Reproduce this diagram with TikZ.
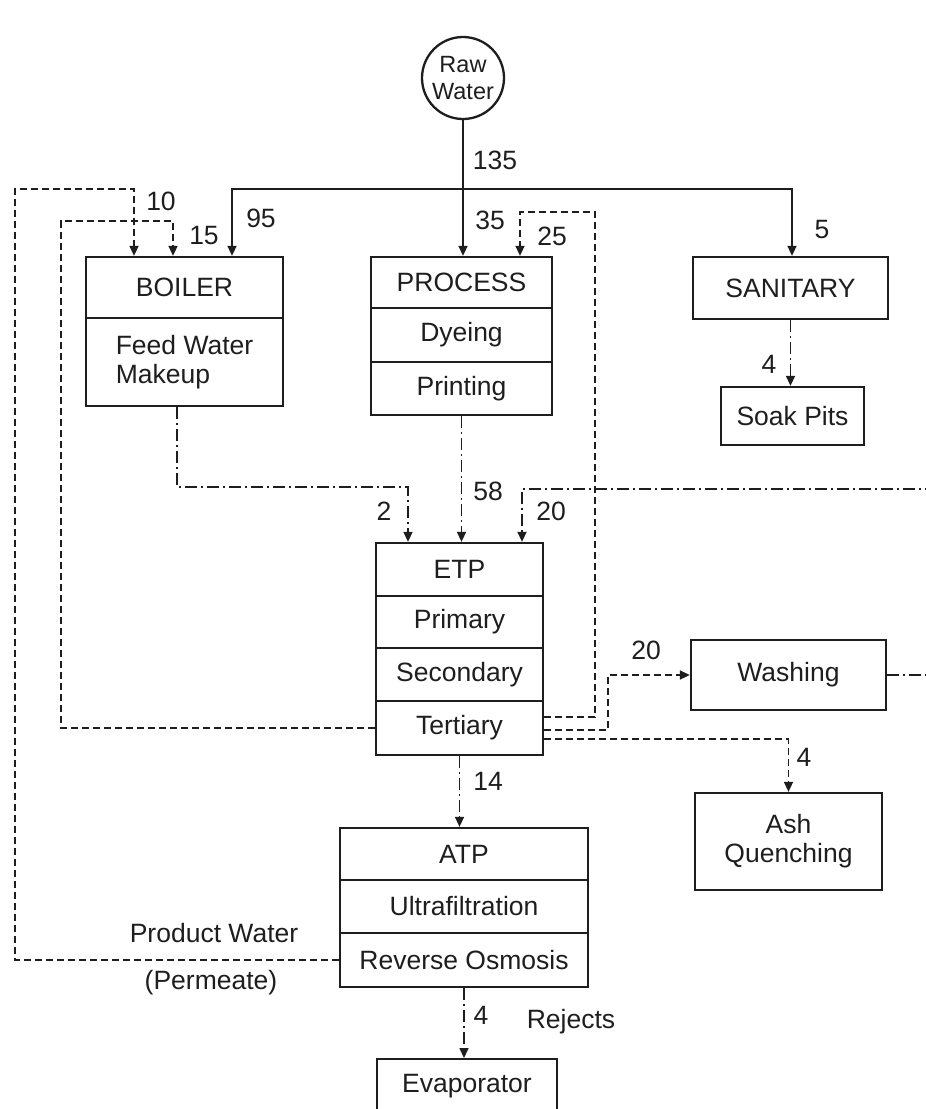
\documentclass[tikz,border=0pt]{standalone}
\usepackage{fontspec}
\setmainfont{Liberation Sans}
\usetikzlibrary{arrows.meta}
\definecolor{ink}{HTML}{1E1E1E}
\newcommand\myfs{\fontsize{26.5}{29}\selectfont}
\newcommand\mysfs{\fontsize{23.5}{27}\selectfont}
\begin{document}
\begin{tikzpicture}[x=1pt,y=-1pt]
\tikzset{
 box/.style={draw=ink, line width=2.3pt, inner sep=0pt, font=\myfs, text=ink},
 flow/.style={draw=ink, line width=1.6pt, -{Triangle[length=10pt,width=9pt]}},
 dsh/.style={dash pattern=on 7pt off 4pt},
 dd/.style={dash pattern=on 12pt off 4pt on 2pt off 4pt},
 lbl/.style={inner sep=0pt, font=\myfs, text=ink},
}
\useasboundingbox (0,0) rectangle (926,1109);
\clip (0,0) rectangle (926,1109);
\fill[white] (0,0) rectangle (926,1109);

% nodes
\node[box, circle, minimum size=82pt, align=center, font=\mysfs] (raw) at (463,78) {Raw\\Water};

\node[box, minimum width=197pt, minimum height=61pt] (boil1) at (184.5,287.5) {BOILER};
\node[box, minimum width=197pt, minimum height=88pt, align=left] (boil2) at (184.5,362) {Feed Water\\Makeup};

\node[box, minimum width=181pt, minimum height=51pt] (proc1) at (461.5,282.5) {PROCESS};
\node[box, minimum width=181pt, minimum height=54pt] (proc2) at (461.5,335) {Dyeing};
\node[box, minimum width=181pt, minimum height=53pt] (proc3) at (461.5,388.5) {Printing};

\node[box, minimum width=195pt, minimum height=62pt] (san) at (790.5,288) {SANITARY};
\node[box, minimum width=143pt, minimum height=58pt] (soak) at (792.5,416) {Soak Pits};

\node[box, minimum width=167pt, minimum height=53pt] (etp1) at (459.5,569.5) {ETP};
\node[box, minimum width=167pt, minimum height=52pt] (prim) at (459.5,622) {Primary};
\node[box, minimum width=167pt, minimum height=53pt] (sec) at (459.5,674.5) {Secondary};
\node[box, minimum width=167pt, minimum height=54pt] (ter) at (459.5,728) {Tertiary};

\node[box, minimum width=195pt, minimum height=70pt] (wash) at (788.5,675) {Washing};
\node[box, minimum width=187pt, minimum height=97pt, align=center] (ash) at (788.5,841.5) {Ash\\Quenching};

\node[box, minimum width=248pt, minimum height=52pt] (atp1) at (464,854) {ATP};
\node[box, minimum width=248pt, minimum height=53pt] (uf) at (464,906.5) {Ultrafiltration};
\node[box, minimum width=248pt, minimum height=54pt] (ro) at (464,960) {Reverse Osmosis};

\node[box, minimum width=180pt, minimum height=54pt, anchor=north] (evap) at (467,1058) {Evaporator};

% coordinates
\coordinate (bl) at (232,189);
\coordinate (br) at (792,189);
\coordinate (ol) at (15,189);
\coordinate (ot) at (134,189);
\coordinate (il) at (61,221);
\coordinate (it) at (173,221);
\coordinate (pr) at (595,212);
\coordinate (pt) at (520,212);
\coordinate (wf) at (608,675);
\coordinate (b1) at (177,487);
\coordinate (b2) at (408,487);
\coordinate (w1) at (940,675);
\coordinate (w2) at (940,489);
\coordinate (w3) at (522,489);

% solid feeds
\draw[flow] (raw.south) -- (raw.south |- proc1.north);
\draw[draw=ink, line width=1.6pt, {Triangle[length=10pt,width=9pt]}-{Triangle[length=10pt,width=9pt]}]
  (bl |- boil1.north) -- (bl) -- (br) -- (br |- san.north);

% recycle loops (dashed)
\draw[flow,dsh] (ro.west) -| (ol) -- (ot) -- (ot |- boil1.north);
\draw[flow,dsh] (ter.west) -| (il) -- (it) -- (it |- boil1.north);
\draw[flow,dsh] ([yshift=11pt]ter.east) -| (pr) -- (pt) -- (pt |- proc1.north);
\draw[flow,dsh] ([yshift=-2pt]ter.east) -| (wf) -- (wash.west);
\draw[flow,dsh] ([yshift=-11pt]ter.east) -| (ash.north);

% effluent (dash-dot)
\draw[flow,dd] (boil2.south -| b1) -- (b1) -- (b2) -- (b2 |- etp1.north);
\draw[flow,dd] (proc3.south) -- (proc3.south |- etp1.north);
\draw[flow,dd] (wash.east) -- (w1) -- (w2) -- (w3) -- (w3 |- etp1.north);
\draw[flow,dd] (san.south) -- (san.south |- soak.north);
\draw[flow,dd] (ter.south) -- (ter.south |- atp1.north);
\draw[flow,dd] (ro.south) -- (ro.south |- evap.north);

% labels
\node[lbl] (l135) at (495,160) {135};
\node[lbl] (l10) at (161,201) {10};
\node[lbl] (l15) at (204,236) {15};
\node[lbl] (l95) at (261,218) {95};
\node[lbl] (l35) at (490,220) {35};
\node[lbl] (l25) at (552,236) {25};
\node[lbl] (l5) at (822,230) {5};
\node[lbl] (l4a) at (769,364) {4};
\node[lbl] (l2) at (384,511) {2};
\node[lbl] (l58) at (488,491) {58};
\node[lbl] (l20a) at (551,511) {20};
\node[lbl] (l20b) at (646,650) {20};
\node[lbl] (l4b) at (804,757) {4};
\node[lbl] (l14) at (488,781) {14};
\node[lbl] (lpw) at (214,933) {Product Water};
\node[lbl] (lperm) at (211,983) {(Permeate)};
\node[lbl] (l4c) at (481,1015) {4};
\node[lbl] (lrej) at (571,1022) {Rejects};
\end{tikzpicture}
\end{document}
